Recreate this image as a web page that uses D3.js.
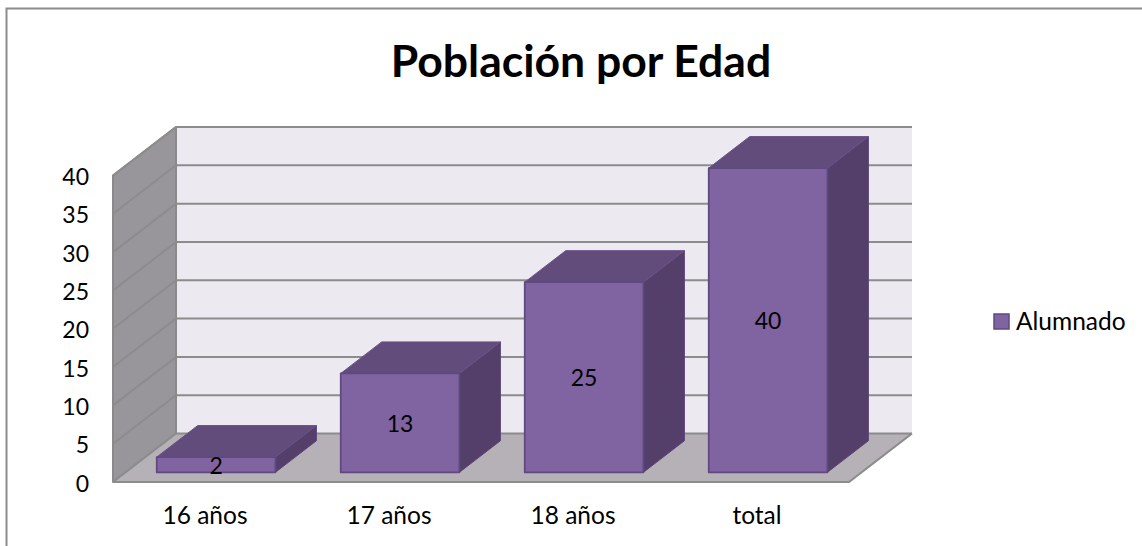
<!DOCTYPE html>
<html><head><meta charset="utf-8">
<script src="https://cdn.jsdelivr.net/npm/d3@7/dist/d3.min.js"></script>
<style>html,body{margin:0;padding:0;background:#fff;overflow:hidden}svg{display:block}</style>
</head><body><div id="c"></div>
<script>
const categories=["16 años","17 años","18 años","total"];
const values=[2,13,25,40];
const yTicks=[0,5,10,15,20,25,30,35,40];
const seriesName="Alumnado";
const titleText="Población por Edad";

const W=1142,H=546;
const svg=d3.select("#c").append("svg").attr("width",W).attr("height",H);
svg.append("rect").attr("x",6.5).attr("y",8.5).attr("width",1200).attr("height",600).attr("fill","#fff").attr("stroke","#8c8c8c").attr("stroke-width",2);

const font="Lato,sans-serif";
const x=d3.scaleBand().domain(categories).range([113,849]);
const y=d3.scaleLinear().domain([0,40]).range([482,175.5]);
const yBar=d3.scaleLinear().domain([0,40]).range([482,177.8]);
const dX=63,dY=-48.5;
const P=(px,py,t)=>[px+dX*t,py+dY*t];
const poly=(pts,fill,stroke,sw)=>svg.append("polygon").attr("points",pts.map(p=>p.join(",")).join(" ")).attr("fill",fill).attr("stroke",stroke).attr("stroke-width",sw).attr("stroke-linejoin","round");
const L=113,R=849;
poly([P(L,y(40),1),P(R,y(40),1),P(R,y(0),1),P(L,y(0),1)],"#ece9f1","none",0);
poly([P(L,y(0),0),P(L,y(0),1),P(L,y(40),1),P(L,y(40),0)],"#98969b","#8a8a8a",2);
poly([P(L,y(0),0),P(R,y(0),0),P(R,y(0),1),P(L,y(0),1)],"#b5b1b6","none",0);
yTicks.forEach(v=>{
  const a=P(L,y(v),0),b=P(L,y(v),1),c=P(R,y(v),1);
  svg.append("polyline").attr("points",[a,b,c].map(p=>p.join(",")).join(" ")).attr("fill","none").attr("stroke","#8c8c8c").attr("stroke-width",2);
});
svg.append("polyline").attr("points",[P(L,y(0),0),P(R,y(0),0),P(R,y(0),1)].map(p=>p.join(",")).join(" ")).attr("fill","none").attr("stroke","#8c8c8c").attr("stroke-width",2.2);

const barW=x.bandwidth()*0.645, t0=0.2, t1=0.85, barShift=-1.5;
values.forEach((v,i)=>{
  const cx=x(categories[i])+x.bandwidth()/2+barShift;
  const xl=cx-barW/2, xr=cx+barW/2;
  const top=yBar(v);
  const A=P(xl,y(0),t0),B=P(xr,y(0),t0),C=P(xl,top,t0),D=P(xr,top,t0);
  const E=P(xl,top,t1),F=P(xr,top,t1),G=P(xr,y(0),t1);
  poly([D,F,G,B],"#533f69","#5b4478",1);
  poly([C,E,F,D],"#624c7c","#6a5287",1);
  poly([C,D,B,A],"#8063a1","#5f4a80",1.8);
  svg.append("text").attr("x",(xl+xr)/2+dX*t0).attr("y",(y(0)+top)/2+dY*t0+9)
    .attr("text-anchor","middle").attr("font-size",23).attr("fill","#000").text(v).style("font-family",font);
});
svg.selectAll(".yl").data(yTicks).enter().append("text").attr("x",89).attr("y",d=>y(d)+9.5)
  .attr("text-anchor","end").attr("font-size",23).attr("fill","#000").text(d=>d).style("font-family",font);
svg.selectAll(".xl").data(categories).enter().append("text").attr("x",d=>x(d)+x.bandwidth()/2).attr("y",523.5)
  .attr("text-anchor","middle").attr("font-size",24.5).attr("fill","#000").text(d=>d).style("font-family",font);
svg.append("text").attr("x",581).attr("y",76.5).attr("text-anchor","middle").attr("font-size",44.5).attr("font-weight",700).attr("fill","#000").text(titleText).style("font-family",font);
svg.append("rect").attr("x",994).attr("y",314).attr("width",15).attr("height",15).attr("fill","#8063a1").attr("stroke","#5f4a80").attr("stroke-width",1.5);
svg.append("text").attr("x",1016).attr("y",329.5).attr("font-size",24.5).attr("fill","#000").text(seriesName).style("font-family",font);
</script></body></html>
